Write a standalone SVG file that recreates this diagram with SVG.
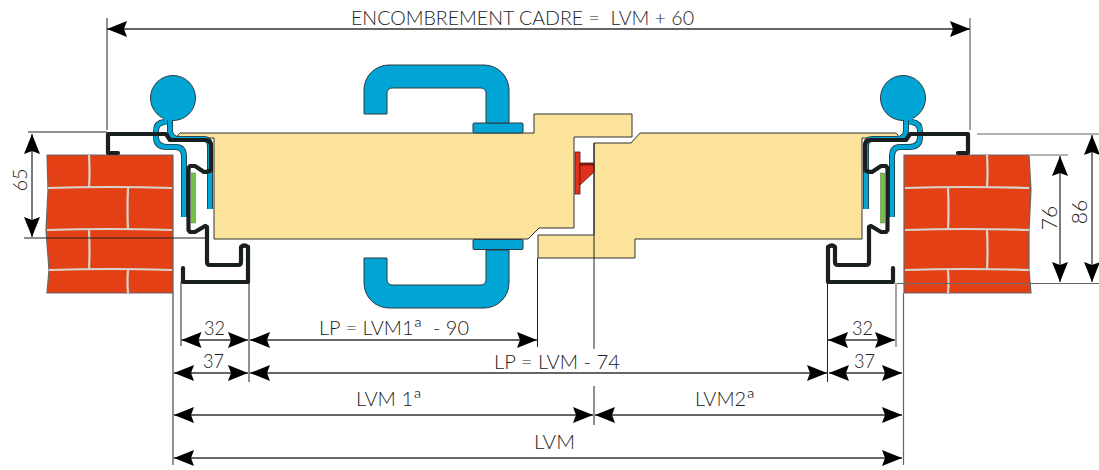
<svg xmlns="http://www.w3.org/2000/svg" xmlns:xlink="http://www.w3.org/1999/xlink" width="1099" height="470" viewBox="0 0 1099 470">
<style>
.leaf{fill:#fbe39b;stroke:#333;stroke-width:1;stroke-linejoin:round}
.blue{fill:#00a5d6;stroke:#2a3a40;stroke-width:1}
.brick{fill:#e44016;stroke:#666;stroke-width:1.2}
.mortar{fill:none;stroke:#d8d4cc;stroke-width:2.200}
.frame{fill:none;stroke:#1a1f1f;stroke-width:4.200;stroke-linejoin:round;stroke-linecap:round}
.gout{fill:none;stroke:#25343a;stroke-width:6}
.gin{fill:none;stroke:#00a5d6;stroke-width:4.4}
.ext{stroke:#222;stroke-width:1;fill:none}
.ext2{stroke:#666;stroke-width:1.2;fill:none}
.dim{stroke:#333;stroke-width:1.3;fill:none;marker-start:url(#ah);marker-end:url(#ah)}
text{font-family:"Lato","Open Sans","Liberation Sans",sans-serif;font-weight:300;font-size:20px;fill:#222}
.sup{font-size:24px}
</style>
<defs>
<marker id="ah" viewBox="0 -8 20 16" markerUnits="userSpaceOnUse" markerWidth="20" markerHeight="16" refX="20" refY="0" orient="auto-start-reverse">
<path d="M20 0L0 -8L3 0L0 8Z" fill="#000"/>
</marker>
<g id="jamb">
<circle class="blue" cx="173" cy="98" r="22.500"/>
<path d="M163 118L172 118L172 125L163 125Z" fill="#00a5d6"/>
<path class="gout" d="M164 122Q156 123 156 131L156 137Q156 147 167 147L176 147Q184 147 184 157L184 217"/>
<path class="gout" d="M170 120L170 131Q171 139 179 139L204 139Q210 139 210 147L210 209"/>
<path class="gin" d="M164 122Q156 123 156 131L156 137Q156 147 167 147L176 147Q184 147 184 157L184 217"/>
<path class="gin" d="M170 120L170 131Q171 139 179 139L204 139Q210 139 210 147L210 209"/>
<rect x="191.500" y="173" width="4" height="50" fill="#74c043" stroke="#55783a" stroke-width="0.500"/>
<path class="frame" d="M118 153L108 153L108 134L166 134L170 140L205 140Q211 140 211 146L211 170Q209 172 204 172L195 166L190 166L188.500 168L188.500 230L190 232L195 232L205 226L207 227L207 262Q207 265 210 265L238 265Q241 265 241 262L241 247Q244 244 248 247L248 282L183 282L183 268"/>
</g>
</defs>

<g id="wall-left">
<path class="brick" d="M47 155L173 155L173 293L47 293L49 270L46 230L48 190Z"/>
<path class="mortar" d="M48 188Q110 186 172 188M47 230Q110 228 172 230M49 270Q110 268 172 270M89 155Q90 172 89 188M128 188Q127 210 128 230M89 230Q90 250 89 270M128 270Q127 282 128 293"/>
</g>
<g id="wall-right">
<path class="brick" d="M904 155L1029 155L1031 190L1029 230L1029 270L1031 293L904 293Z"/>
<path class="mortar" d="M905 188Q965 186 1029 188M905 230Q965 228 1029 230M905 270Q965 268 1029 270M987 155Q988 172 987 188M948 188Q949 210 948 230M987 230Q988 250 987 270M948 270Q949 282 948 293"/>
</g>

<g id="leaf-left"><path class="leaf" d="M178 135L180 133L534 133L534 114L632 114L632 137L574 137L574 228L539 228L528 239L214 239L214 138L178 138Z"/></g>
<g id="leaf-right"><path class="leaf" d="M594 143L631 143L640 133L896 133L898 135L898 138L862 138L862 239L635 239L635 258L538 258L538 235L594 235Z"/></g>

<g id="handle-top">
<rect class="blue" x="473" y="123" width="50" height="10" rx="1"/>
<path class="blue" d="M364 114L364 90A25 25 0 0 1 389 65L484 65A25 25 0 0 1 509 90L509 123L486 123L486 93A5 5 0 0 0 481 88L392 88A5 5 0 0 0 387 93L387 114Z"/>
</g>
<g id="handle-bottom">
<rect class="blue" x="473" y="239.500" width="50" height="10" rx="1"/>
<path class="blue" d="M364 258L364 283A25 25 0 0 0 389 308L484 308A25 25 0 0 0 509 283L509 250L486 250L486 280A5 5 0 0 1 481 285L392 285A5 5 0 0 1 387 280L387 258Z"/>
</g>
<g id="latch">
<rect x="575" y="152" width="5" height="42" fill="#e1301c" stroke="#5a1a10" stroke-width="0.800"/>
<path d="M580 163L594 163L594 172L580 185Z" fill="#e1301c" stroke="#5a1a10" stroke-width="0.800"/>
<rect x="580" y="163" width="14" height="2.500" fill="#7a1c10"/>
</g>

<g id="jamb-left"><use xlink:href="#jamb" href="#jamb"/></g>
<g id="jamb-right"><use xlink:href="#jamb" href="#jamb" transform="translate(1076 0) scale(-1 1)"/></g>

<g id="connectors">
<path class="ext" d="M107 18V130M28 132H107M24 238H206M181 282V346M249 245V382M537.500 258V347M594 143V349M594 386V425M827.500 270V382M173 293V465"/>
<path class="ext2" d="M970 18V130M977 134H1099M1030 155H1068M897 283.500H1099M896 283V347M903.500 293V465"/>
<path class="dim" d="M107 29H970"/>
<path class="dim" d="M32 134V237"/>
<path class="dim" d="M1060 156V282"/>
<path class="dim" d="M1092 135V282"/>
<path class="dim" d="M181.500 340H248"/>
<path class="dim" d="M250 340H537"/>
<path class="dim" d="M828 340H895"/>
<path class="dim" d="M174 373H248"/>
<path class="dim" d="M250 373H827"/>
<path class="dim" d="M829 373H902"/>
<path class="dim" d="M174 415H593"/>
<path class="dim" d="M595 415H902"/>
<path class="dim" d="M174 458H902"/>
</g>

<g id="labels">
<text x="351" y="25" textLength="343" lengthAdjust="spacingAndGlyphs" xml:space="preserve">ENCOMBREMENT CADRE =  LVM + 60</text>
<text transform="translate(27 180) rotate(-90)" text-anchor="middle">65</text>
<text transform="translate(1057 218) rotate(-90)" text-anchor="middle" style="font-size:21px">76</text>
<text transform="translate(1087 212) rotate(-90)" text-anchor="middle" style="font-size:21px">86</text>
<text x="204" y="335" textLength="21" lengthAdjust="spacingAndGlyphs">32</text>
<text x="203" y="368" textLength="21" lengthAdjust="spacingAndGlyphs">37</text>
<text x="852" y="335" textLength="21" lengthAdjust="spacingAndGlyphs">32</text>
<text x="854" y="368" textLength="21" lengthAdjust="spacingAndGlyphs">37</text>
<text x="319" y="335" textLength="150" lengthAdjust="spacingAndGlyphs" xml:space="preserve">LP = LVM1<tspan class="sup" dy="2">ª</tspan><tspan dy="-2">  - 90</tspan></text>
<text x="494" y="369" textLength="126" lengthAdjust="spacingAndGlyphs">LP = LVM - 74</text>
<text x="356" y="406" textLength="66" lengthAdjust="spacingAndGlyphs">LVM 1<tspan class="sup" dy="2">ª</tspan></text>
<text x="695" y="406" textLength="60" lengthAdjust="spacingAndGlyphs">LVM2<tspan class="sup" dy="2">ª</tspan></text>
<text x="534" y="449" textLength="41" lengthAdjust="spacingAndGlyphs">LVM</text>
</g>
</svg>
